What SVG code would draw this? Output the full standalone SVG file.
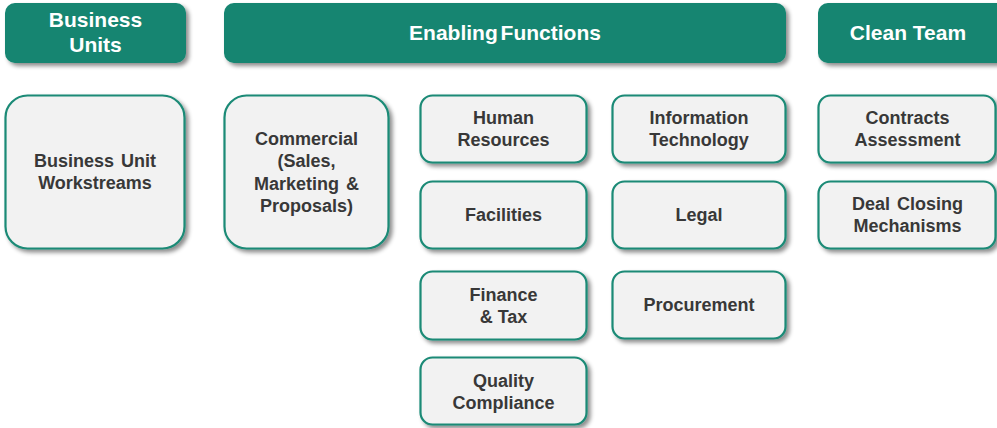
<svg xmlns="http://www.w3.org/2000/svg" width="997" height="428" viewBox="0 0 997 428">
  <defs>
    <filter id="shadow" x="-10%" y="-10%" width="125%" height="130%">
      <feDropShadow dx="3" dy="3" stdDeviation="2" flood-color="#000" flood-opacity="0.45"/>
    </filter>
    <style>
      .hdr { fill: #138571; filter: url(#shadow); }
      .hdr-text { font-family: "Liberation Sans", Arial, sans-serif; font-weight: bold; font-size: 21px; fill: #ffffff; text-anchor: middle; }
      .box { fill: #f2f2f2; stroke: #1a8a76; stroke-width: 2.2; filter: url(#shadow); }
      .box-text { font-family: "Liberation Sans", Arial, sans-serif; font-weight: bold; font-size: 18px; fill: #383838; text-anchor: middle; }
    </style>
  </defs>
  <rect width="997" height="428" fill="#ffffff"/>

  <!-- Column headers -->
  <g id="hdr-business-units">
    <rect class="hdr" x="5" y="3" width="181" height="60" rx="10"/>
    <text class="hdr-text" x="95.5" y="27">Business</text>
    <text class="hdr-text" x="95.5" y="52">Units</text>
  </g>
  <g id="hdr-enabling-functions">
    <rect class="hdr" x="224" y="3" width="562" height="60" rx="10"/>
    <text class="hdr-text" x="505" y="39.5" word-spacing="-3">Enabling Functions</text>
  </g>
  <g id="hdr-clean-team">
    <rect class="hdr" x="818" y="3" width="190" height="60" rx="10"/>
    <text class="hdr-text" x="908" y="39.5">Clean Team</text>
  </g>

  <!-- Business units column -->
  <g id="business-unit-workstreams">
    <rect class="box" x="5.5" y="95.5" width="179" height="153" rx="22"/>
    <text class="box-text" x="95" y="167" word-spacing="2">Business Unit</text>
    <text class="box-text" x="95" y="189">Workstreams</text>
  </g>

  <!-- Enabling functions -->
  <g id="commercial">
    <rect class="box" x="224.5" y="95.5" width="164" height="153" rx="22"/>
    <text class="box-text" x="306.5" y="145">Commercial</text>
    <text class="box-text" x="306.5" y="167">(Sales,</text>
    <text class="box-text" x="306.5" y="190" word-spacing="2">Marketing &amp;</text>
    <text class="box-text" x="306.5" y="212">Proposals)</text>
  </g>
  <g id="human-resources">
    <rect class="box" x="420.5" y="95.5" width="166" height="67" rx="12"/>
    <text class="box-text" x="503.5" y="124">Human</text>
    <text class="box-text" x="503.5" y="146">Resources</text>
  </g>
  <g id="facilities">
    <rect class="box" x="420.5" y="181.5" width="166" height="67" rx="12"/>
    <text class="box-text" x="503.5" y="221">Facilities</text>
  </g>
  <g id="finance-tax">
    <rect class="box" x="420.5" y="271.5" width="166" height="68" rx="12"/>
    <text class="box-text" x="503.5" y="301">Finance</text>
    <text class="box-text" x="503.5" y="323">&amp; Tax</text>
  </g>
  <g id="quality-compliance">
    <rect class="box" x="420.5" y="357.5" width="166" height="67" rx="12"/>
    <text class="box-text" x="503.5" y="387">Quality</text>
    <text class="box-text" x="503.5" y="409">Compliance</text>
  </g>
  <g id="information-technology">
    <rect class="box" x="612.5" y="95.5" width="173" height="67" rx="12"/>
    <text class="box-text" x="699" y="124">Information</text>
    <text class="box-text" x="699" y="146">Technology</text>
  </g>
  <g id="legal">
    <rect class="box" x="612.5" y="181.5" width="173" height="67" rx="12"/>
    <text class="box-text" x="699" y="221">Legal</text>
  </g>
  <g id="procurement">
    <rect class="box" x="612.5" y="271.5" width="173" height="67" rx="12"/>
    <text class="box-text" x="699" y="311">Procurement</text>
  </g>

  <!-- Clean team -->
  <g id="contracts-assessment">
    <rect class="box" x="818.5" y="95.5" width="177" height="67" rx="12"/>
    <text class="box-text" x="907.5" y="124">Contracts</text>
    <text class="box-text" x="907.5" y="146">Assessment</text>
  </g>
  <g id="deal-closing-mechanisms">
    <rect class="box" x="818.5" y="181.5" width="177" height="67" rx="12"/>
    <text class="box-text" x="907.5" y="210" word-spacing="2">Deal Closing</text>
    <text class="box-text" x="907.5" y="232">Mechanisms</text>
  </g>

  <!-- No connectors in this chart -->
  <g id="connectors"/>
</svg>
